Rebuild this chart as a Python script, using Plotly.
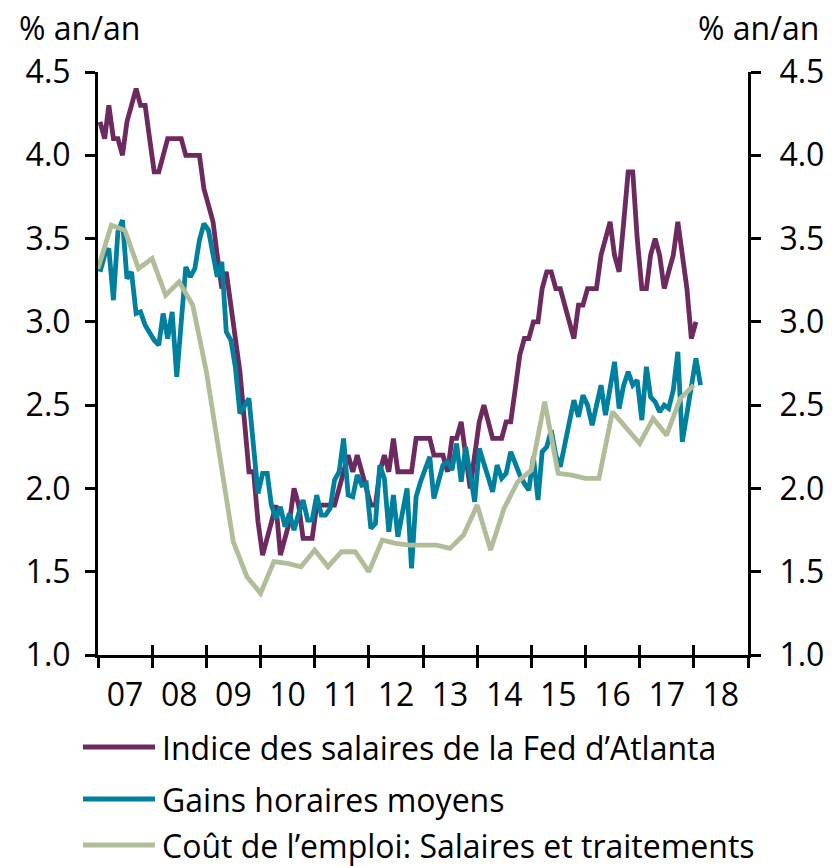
import pandas as pd
import plotly.graph_objects as go

# ---------------- data ----------------
SERIES_NAMES = [
    "Indice des salaires de la Fed d\u2019Atlanta",
    "Gains horaires moyens",
    "Co\u00fbt de l\u2019emploi: Salaires et traitements",
]
SERIES_COLORS = ["#6C2A5E", "#00809F", "#B1BD98"]

# Atlanta Fed wage tracker, monthly from Jan 2007
atlanta = [4.2, 4.1, 4.3, 4.1, 4.1, 4.0, 4.2, 4.3, 4.4, 4.3, 4.3, 4.1,
           3.9, 3.9, 4.0, 4.1, 4.1, 4.1, 4.1, 4.0, 4.0, 4.0, 4.0, 3.8,
           3.7, 3.6, 3.4, 3.2, 3.3, 3.1, 2.9, 2.7, 2.4, 2.1, 2.1, 1.8,
           1.6, 1.7, 1.8, 1.9, 1.6, 1.7, 1.8, 2.0, 1.9, 1.7, 1.7, 1.7,
           1.9, 1.9, 1.9, 1.9, 1.9, 2.0, 2.1, 2.2, 2.1, 2.2, 2.1, 2.0,
           1.9, 1.9, 2.1, 2.2, 2.1, 2.3, 2.1, 2.1, 2.1, 2.1, 2.3, 2.3,
           2.3, 2.3, 2.2, 2.2, 2.2, 2.1, 2.3, 2.3, 2.4, 2.2, 2.0, 2.2,
           2.4, 2.5, 2.4, 2.3, 2.3, 2.3, 2.4, 2.4, 2.6, 2.8, 2.9, 2.9,
           3.0, 3.0, 3.2, 3.3, 3.3, 3.2, 3.2, 3.1, 3.0, 2.9, 3.1, 3.1,
           3.2, 3.2, 3.2, 3.4, 3.5, 3.6, 3.4, 3.3, 3.6, 3.9, 3.9, 3.5,
           3.2, 3.2, 3.4, 3.5, 3.4, 3.2, 3.3, 3.4, 3.6, 3.4, 3.2, 2.9,
           3.0]

# Average hourly earnings, monthly from Jan 2007
ahe = [3.30, 3.40, 3.44, 3.13, 3.54, 3.61, 3.26, 3.30, 3.05, 3.06, 2.98, 2.93,
       2.89, 2.86, 3.05, 2.90, 3.06, 2.67, 3.00, 3.33, 3.27, 3.32, 3.49, 3.59,
       3.55, 3.40, 3.27, 3.36, 2.94, 2.89, 2.73, 2.45, 2.50, 2.54, 2.25, 1.97,
       2.09, 2.09, 1.90, 1.82, 1.89, 1.77, 1.85, 1.75, 1.85, 1.93, 1.81, 1.81,
       1.96, 1.84, 1.84, 1.88, 2.05, 2.10, 2.30, 1.96, 1.95, 2.08, 2.02, 2.03,
       1.76, 1.79, 2.14, 2.06, 1.74, 1.96, 1.71, 1.85, 2.00, 1.52, 1.95, 2.04,
       2.11, 2.19, 1.94, 2.05, 2.14, 2.16, 2.11, 2.27, 2.04, 2.25, 2.10, 1.92,
       2.24, 2.15, 2.09, 1.98, 2.14, 2.06, 2.09, 2.22, 2.15, 2.08, 2.03, 1.99,
       2.19, 1.93, 2.22, 2.25, 2.35, 2.20, 2.13, 2.25, 2.40, 2.53, 2.43, 2.56,
       2.50, 2.38, 2.50, 2.62, 2.44, 2.60, 2.76, 2.48, 2.62, 2.70, 2.62, 2.65,
       2.41, 2.73, 2.55, 2.52, 2.46, 2.50, 2.48, 2.59, 2.82, 2.28, 2.45, 2.62,
       2.78, 2.62]

# Employment cost index: wages & salaries, quarterly from Q1 2007
eci = [3.32, 3.58, 3.55, 3.32, 3.38, 3.16, 3.24, 3.10, 2.70, 2.20, 1.68, 1.47,
       1.37, 1.56, 1.55, 1.53, 1.63, 1.53, 1.62, 1.62, 1.50, 1.69, 1.67, 1.66,
       1.66, 1.66, 1.64, 1.72, 1.90, 1.63, 1.88, 2.04, 2.11, 2.52, 2.09, 2.08,
       2.06, 2.06, 2.46, 2.37, 2.27, 2.42, 2.32, 2.54, 2.62]

YEAR_LABELS = ["07", "08", "09", "10", "11", "12", "13", "14", "15", "16", "17", "18"]
Y_TICKS = [1.0, 1.5, 2.0, 2.5, 3.0, 3.5, 4.0, 4.5]
UNIT_LABEL = "% an/an"

# ---------------- x positions ----------------
x_atl = pd.date_range("2007-01-01", periods=len(atlanta), freq="MS") + pd.Timedelta(days=14)
x_ahe = pd.date_range("2007-01-01", periods=len(ahe), freq="MS") + pd.Timedelta(days=14)
x_eci = pd.date_range("2007-01-01", periods=len(eci), freq="QS")

year_starts = pd.date_range("2007-01-01", "2019-01-01", freq="YS")
year_mids = [pd.Timestamp(f"20{lab}-07-02") for lab in YEAR_LABELS]

FONT = "Open Sans"
FS = 32
LW = 4.8

fig = go.Figure()
for xs, ys, name, col in [(x_atl, atlanta, SERIES_NAMES[0], SERIES_COLORS[0]),
                          (x_ahe, ahe, SERIES_NAMES[1], SERIES_COLORS[1]),
                          (x_eci, eci, SERIES_NAMES[2], SERIES_COLORS[2])]:
    fig.add_trace(go.Scatter(x=xs, y=ys, name=name, mode="lines",
                             line=dict(color=col, width=LW), showlegend=False))

# helper invisible traces for overlay axes
fig.add_trace(go.Scatter(x=[year_starts[0]], y=[None], xaxis="x2", yaxis="y",
                         showlegend=False, hoverinfo="skip"))
fig.add_trace(go.Scatter(x=[year_starts[0]], y=[None], xaxis="x", yaxis="y2",
                         showlegend=False, hoverinfo="skip"))

xr = [year_starts[0], year_starts[-1]]
yr = [Y_TICKS[0], Y_TICKS[-1]]

fig.update_layout(
    width=832, height=866,
    margin=dict(l=98, r=84, t=72, b=211, autoexpand=False),
    paper_bgcolor="white", plot_bgcolor="white",
    font=dict(family=FONT, size=FS, color="black"),
    showlegend=False,
    xaxis=dict(type="date", range=xr, tickmode="array", tickvals=year_mids,
               ticktext=YEAR_LABELS, ticks="", showgrid=False, zeroline=False,
               showline=True, linecolor="black", linewidth=3, automargin=False,
               ticklabelstandoff=10,
               minor=dict(tickmode="array", tickvals=list(year_starts), ticks="outside",
                          ticklen=10, tickwidth=2.5, tickcolor="black", showgrid=False)),
    xaxis2=dict(type="date", range=xr, overlaying="x", anchor="y", side="bottom",
                tickmode="array", tickvals=list(year_starts), ticks="inside",
                ticklen=10, tickwidth=2.5, tickcolor="black", showticklabels=False,
                showgrid=False, zeroline=False, showline=False, automargin=False),
    yaxis=dict(range=yr, tickmode="array", tickvals=Y_TICKS, tickformat=".1f",
               ticks="outside", ticklen=10, tickwidth=2.5, tickcolor="black",
               showgrid=False, zeroline=False, showline=True, linecolor="black",
               linewidth=3, ticklabelstandoff=8, automargin=False),
    yaxis2=dict(range=yr, overlaying="y", side="right", anchor="x",
                tickmode="array", tickvals=Y_TICKS, tickformat=".1f",
                ticks="outside", ticklen=10, tickwidth=2.5, tickcolor="black",
                showgrid=False, zeroline=False, showline=True, linecolor="black",
                linewidth=3, ticklabelstandoff=12, automargin=False),
)

# pixel -> paper helpers (plot area: x 98..748, y 72..655)
def px(xp):
    return (xp - 98) / 650.0

def py(yp):
    return (655 - yp) / 583.0

fig.add_annotation(text=UNIT_LABEL, x=px(79), y=py(27), xref="paper", yref="paper",
                   showarrow=False, xanchor="center", yanchor="middle",
                   font=dict(family=FONT, size=FS, color="black"))
fig.add_annotation(text=UNIT_LABEL, x=px(759), y=py(27), xref="paper", yref="paper",
                   showarrow=False, xanchor="center", yanchor="middle",
                   font=dict(family=FONT, size=FS, color="black"))

# custom legend
legend_rows = [747, 799, 845]
for name, col, yrow in zip(SERIES_NAMES, SERIES_COLORS, legend_rows):
    fig.add_shape(type="line", xref="paper", yref="paper",
                  x0=px(83), x1=px(155), y0=py(yrow), y1=py(yrow),
                  line=dict(color=col, width=5))
    fig.add_annotation(text=name, x=px(160), y=py(yrow), xref="paper", yref="paper",
                       showarrow=False, xanchor="left", yanchor="middle",
                       font=dict(family=FONT, size=FS, color="black"))

fig.write_html("out.html", config={"displayModeBar": False},
               post_script="document.body.style.margin='0px';document.body.style.overflow='hidden';")
